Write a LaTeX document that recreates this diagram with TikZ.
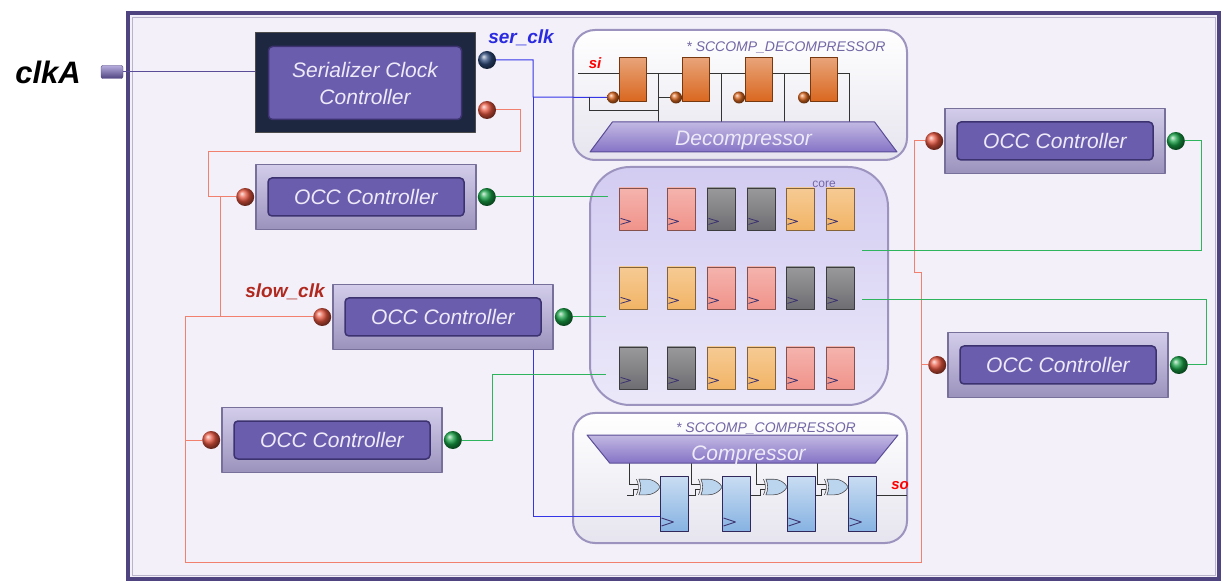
\documentclass[tikz,border=0pt]{standalone}
\usepackage{fontspec}
\setmainfont{Liberation Sans}
\usetikzlibrary{positioning,shapes.geometric,shapes.gates.logic.US}

\definecolor{framec}{HTML}{4F4380}
\definecolor{bgc}{HTML}{F3F0FA}
\definecolor{occoutc}{HTML}{B6ACDD}
\definecolor{occinc}{HTML}{6B5DAE}
\definecolor{occedge}{HTML}{3C3270}
\definecolor{sernavy}{HTML}{1D2740}
\definecolor{txtc}{HTML}{EEEAF8}
\definecolor{redw}{HTML}{F2806E}
\definecolor{greenw}{HTML}{2FB45E}
\definecolor{bluew}{HTML}{3535E8}
\definecolor{purw}{HTML}{5A4C96}
\definecolor{cboxc}{HTML}{E6E4EE}
\definecolor{cboxe}{HTML}{9C94BE}
\definecolor{corec}{HTML}{D3CCF2}
\definecolor{trapc}{HTML}{8573C6}
\definecolor{ffor}{HTML}{D9661E}
\definecolor{ffbl}{HTML}{86B2E2}
\definecolor{pk}{HTML}{F0938A}
\definecolor{gy}{HTML}{6E6E72}
\definecolor{og}{HTML}{F2B466}
\definecolor{redball}{HTML}{E5553F}
\definecolor{greenball}{HTML}{17A045}
\definecolor{blueball}{HTML}{2E4A7A}
\definecolor{slowred}{HTML}{B0281E}
\definecolor{serblue}{HTML}{2A2AE0}

\pgfdeclarelayer{back}
\pgfdeclarelayer{wires}
\pgfsetlayers{back,wires,main}

\tikzset{
  occ/.style={draw=occedge!70, line width=1.2pt, top color=occoutc!60!white, bottom color=occoutc!85!black,
    minimum width=220, minimum height=65, inner sep=0pt},
  occin/.style={draw=occedge, line width=1.5pt, fill=occinc, rounded corners=4pt, minimum width=196,
    minimum height=38, text=txtc, font=\fontsize{21}{27}\selectfont\itshape},
  serbox/.style={draw=black!70, line width=1pt, fill=sernavy, minimum width=220, minimum height=100, inner sep=0pt},
  serin/.style={occin, minimum width=193, minimum height=73, align=center},
  ball/.style={circle, inner sep=0pt, minimum size=18, ball color=#1},
  rball/.style={ball=redball}, gball/.style={ball=greenball}, bball/.style={ball=blueball},
  port/.style={draw=framec, rounded corners=2pt, top color=occoutc, bottom color=framec,
    minimum width=22, minimum height=13, inner sep=0pt},
  cbox/.style={draw=cboxe, line width=2pt, top color=white, bottom color=cboxc, rounded corners=22pt,
    minimum width=334, minimum height=130, inner sep=0pt},
  corebox/.style={draw=cboxe, line width=2pt, top color=corec, bottom color=corec!45!white,
    rounded corners=40pt, minimum width=298, minimum height=238, inner sep=0pt},
  trap/.style={trapezium, trapezium angle=40, trapezium stretches body, draw=purw, line width=1pt,
    top color=trapc!50!white, bottom color=trapc, inner sep=0pt,
    font=\fontsize{21}{23}\selectfont\itshape},
  traptext/.style={text=txtc, font=\fontsize{21}{23}\selectfont\itshape},
  dff/.style={draw=ffor!55!black, line width=1pt, top color=ffor!60!white, bottom color=ffor,
    minimum width=27, minimum height=44, inner sep=0pt},
  dclk/.style={circle, inner sep=0pt, minimum size=12, ball color=ffor},
  kff/.style={draw=occedge!80!black, line width=1pt, top color=ffbl!45!white, bottom color=ffbl,
    minimum width=28, minimum height=55, inner sep=0pt},
  xorg/.style={xor gate US, draw=gy!70!black, fill=ffbl!55!white, logic gate inputs=nn,
    minimum height=14, minimum width=11, inner sep=0pt, line width=0.6pt},
  cell/.style={draw=#1!55!black, line width=0.8pt, top color=#1!70!white, bottom color=#1,
    minimum width=28, minimum height=42, inner sep=0pt},
  clkmark/.style={draw=occedge, line width=0.8pt},
  tag/.style={text=purw!85, font=\fontsize{14}{16}\selectfont\itshape},
  wire/.style={draw=black!80, line width=0.8pt},
  rwire/.style={draw=redw, line width=1pt},
  gwire/.style={draw=greenw, line width=1pt},
  bwire/.style={draw=bluew, line width=1pt},
  pwire/.style={draw=purw, line width=1pt}
}

\begin{document}
\begin{tikzpicture}[x=1pt, y=-1pt, line join=round, font=\itshape]
\useasboundingbox (0,0) rectangle (1227,585);

% frame and the three boxes of the core area
\begin{pgfonlayer}{back}
  \draw[framec, line width=4pt, fill=bgc] (128,13) rectangle (1219,579);
  \draw[framec!40, line width=0.8pt] (132,17) rectangle (1215,575);
  \node[cbox] (dbox) at (740,95) {};
  \node[corebox] (core) at (739,286) {};
  \node[cbox] (cmpbox) at (740,478) {};
\end{pgfonlayer}
\node[tag] at (786,47) {* SCCOMP\_DECOMPRESSOR};
\node[tag] at (766,428) {* SCCOMP\_COMPRESSOR};
\node[tag, font=\fontsize{12}{14}\selectfont] at (824,184) {core};

% clock input
\node[port] (clkport) at (112,72) {};
\node[anchor=east, inner sep=0pt, font=\fontsize{31}{33}\selectfont\bfseries\itshape] at (81,72) {clkA};

% serializer clock controller
\node[serbox] (ser) at (365,83) {};
\node[serin] at (ser) {Serializer Clock\\Controller};
\node[bball] (serclk) at (487,60) {};
\node[rball] (serslow) at (487,110) {};
\node[text=serblue, font=\fontsize{19}{21}\selectfont\bfseries\itshape] at (521,38) {ser\_clk};

% occ controllers
\foreach \n/\x/\y in {occA/366/197, occB/443/317, occC/332/440, occD/1055/141, occE/1058/365} {
  \node[occ] (\n) at (\x,\y) {};
  \node[occin] at (\n) {OCC Controller};
  \node[rball, left=1pt of \n] (\n-clk) {};
  \node[gball, right=1pt of \n] (\n-out) {};
}
\node[text=slowred, font=\fontsize{19}{21}\selectfont\bfseries\itshape] at (285,292) {slow\_clk};

% decompressor chain
\foreach \i/\x in {1/633,2/696,3/759,4/824} {
  \node[dff] (d\i) at (\x,80) {};
  \node[dclk] (dc\i) at ([xshift=-6pt,yshift=5pt]d\i.south west) {};
}
\node[trap, minimum width=307, minimum height=30] (dec) at (743.5,137) {\phantom{Decompressor}};
\node[traptext] at ([yshift=-3pt]dec.center) {Decompressor};
\node[text=red, font=\fontsize{15}{17}\selectfont\bfseries\itshape] at (595,63) {si};

% core cells
\foreach \r/\y/\cols in {1/209/{pk,pk,gy,gy,og,og}, 2/288/{og,og,pk,pk,gy,gy}, 3/368/{gy,gy,og,og,pk,pk}} {
  \foreach \c [count=\i] in \cols {
    \pgfmathsetmacro{\cx}{{633,681,721,761,800,840}[\i-1]}
    \node[cell=\c] (c\r\i) at (\cx,\y) {};
    \draw[clkmark] ([xshift=2pt,yshift=12pt]c\r\i.south west) -- ++(10,3) -- ++(-10,3);
  }
}

% compressor chain
\node[trap, shape border rotate=180, minimum width=311, minimum height=28] (cmp) at (742.5,449) {\phantom{Compressor}};
\node[traptext] at ([xshift=6pt,yshift=-6pt]cmp.center) {Compressor};
\foreach \i/\x in {1/674,2/736,3/801,4/862} {
  \node[kff] (k\i) at (\x,504) {};
  \draw[clkmark] ([xshift=2pt,yshift=14pt]k\i.south west) -- ++(12,4) -- ++(-12,4);
  \node[xorg] (x\i) at (\x-26,487) {};
}
\node[text=red, font=\fontsize{15}{17}\selectfont\bfseries\itshape] at (900,486) {so};

\begin{pgfonlayer}{wires}
  \coordinate (si) at (578,73);
  \coordinate (dck) at (589,97);
  \coordinate (bj) at (533,97);
  \coordinate (cin) at (627,495);
  \coordinate (so) at (907,495);
  \coordinate (rl) at (185,317);
  \coordinate (rb) at (921,562);
  \coordinate (coreA) at (608,197);
  \coordinate (coreB) at (606,317);
  \coordinate (coreC) at (606,375);
  \coordinate (coreD) at (862,251);
  \coordinate (coreE) at (862,300);

  % clock tree
  \draw[pwire] (clkport) -- (clkport -| ser.west);
  \draw[bwire] (serclk) -| (bj) -- (dc1);
  \draw[bwire] (bj) |- ([yshift=-12pt]k1.west);

  % decompressor wiring
  \draw[wire] (si) -- ([yshift=7pt]d1.west);
  \foreach \i in {1,...,4}
    \draw[wire] ([yshift=7pt]d\i.east) -- ++(11,0) coordinate (s\i) -- (s\i |- dec.center);
  \foreach \i/\j in {1/2,2/3,3/4}
    \draw[wire] (s\i) -- ([yshift=7pt]d\j.west);
  \draw[wire] (dck) -- ++(0,13) -| ([xshift=-11pt]dc2.west) -- (dc2);

  % compressor wiring
  \foreach \i in {1,...,4} {
    \draw[wire] (x\i.output) -- (x\i.output -| k\i.west);
    \draw[wire] (x\i.input 1) -- ++(-8,0) coordinate (t\i) -- (t\i |- cmp.center);
  }
  \draw[wire] (cin) -| ([xshift=-4pt]x1.input 2) -- (x1.input 2);
  \foreach \i/\j in {1/2,2/3,3/4}
    \draw[wire] ([yshift=9pt]k\i.east) -| ([xshift=-4pt]x\j.input 2) -- (x\j.input 2);
  \draw[wire] ([yshift=9pt]k4.east) -- (so);

  % slow clock net
  \draw[rwire] (serslow) -| (520,152) -| ([xshift=-28pt]occA-clk.west) -- (occA-clk);
  \draw[rwire] ([xshift=-16pt]occA-clk.west) |- (occB-clk);
  \draw[rwire] (occB-clk) -- (rl) |- (rb) -- (921,273) -- (914,273) |- (occD-clk);
  \draw[rwire] (rl |- occC-clk) -- (occC-clk);
  \draw[rwire] (rb |- occE-clk) -- (occE-clk);

  % occ outputs into the core
  \draw[gwire] (occA-out) -- (coreA);
  \draw[gwire] (occB-out) -- (occB-out -| coreB);
  \draw[gwire] (occC-out) -- ++(40,0) |- (coreC);
  \draw[gwire] (coreD) -| ([xshift=16pt]occD-out.east) -- (occD-out);
  \draw[gwire] (coreE) -| ([xshift=18pt]occE-out.east) -- (occE-out);
\end{pgfonlayer}
\end{tikzpicture}
\end{document}
